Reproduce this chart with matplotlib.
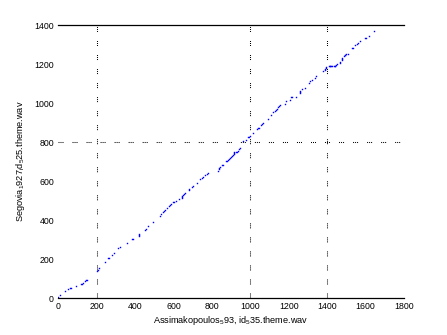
import matplotlib
matplotlib.use("Agg")
import matplotlib.pyplot as plt

# alignment path points
path_x = [0, 10, 36, 52, 62, 68, 94, 120, 125, 130, 140, 146, 151,
          203, 208, 213, 244, 260, 265, 281, 291, 312, 323, 360, 387, 392,
          423, 423, 423, 454, 459, 470, 496, 532, 537, 548, 553, 558, 569,
          579, 584, 589, 600, 605, 615, 631, 647, 647, 647, 652, 657, 662,
          683, 683, 699, 704, 725, 740, 751, 756, 766, 777, 782,
          834, 839, 839, 844, 855, 860, 876, 881, 886, 891, 896, 902, 907,
          912, 917, 917, 917, 928, 933, 938, 943, 948, 964, 975, 990, 995,
          1000, 1016, 1037, 1042, 1047, 1058, 1063, 1068, 1094, 1105, 1120,
          1131, 1136, 1141, 1146, 1151, 1157, 1183, 1188, 1204, 1214, 1219,
          1240, 1256, 1261, 1261, 1271, 1282, 1303, 1313, 1323, 1334, 1344,
          1380, 1386, 1391, 1396, 1396, 1407, 1412, 1417, 1422, 1427, 1433,
          1438, 1443, 1448, 1453, 1464, 1469, 1479, 1479, 1479, 1485, 1490,
          1495, 1500, 1510, 1531, 1536, 1547, 1557, 1562, 1573, 1599, 1604,
          1620, 1646]
path_y = [5, 15, 36, 46, 51, 51, 61, 72, 72, 77, 86, 91, 91,
          138, 143, 154, 184, 205, 205, 220, 230, 256, 261, 282, 302, 302,
          317, 322, 327, 352, 357, 368, 388, 420, 430, 440, 445, 450, 461,
          471, 476, 481, 491, 491, 496, 507, 512, 517, 522, 527, 532, 537,
          553, 558, 572, 577, 593, 609, 614, 619, 630, 635, 640,
          650, 660, 665, 670, 681, 681, 701, 701, 707, 711, 717, 722, 727,
          732, 737, 742, 748, 748, 750, 755, 763, 768, 804, 809, 824, 824,
          829, 845, 865, 870, 870, 886, 891, 896, 921, 937, 952,
          962, 967, 972, 978, 983, 988, 998, 1009, 1014, 1029, 1034,
          1034, 1050, 1055, 1060, 1070, 1080, 1101, 1111, 1121, 1131, 1141,
          1167, 1172, 1177, 1182, 1187, 1192, 1192, 1192, 1192, 1192, 1192,
          1192, 1192, 1197, 1203, 1208, 1213, 1223, 1228, 1233, 1243, 1248,
          1248, 1253, 1253, 1284, 1284, 1300, 1305, 1310, 1320, 1336, 1336,
          1346, 1372]

# dotted reference lines
vlines = [200, 1000, 1400]
hlines = [800]

xticks = [0, 200, 400, 600, 800, 1000, 1200, 1400, 1600, 1800]
yticks = [0, 200, 400, 600, 800, 1000, 1200, 1400]

plt.rcParams['font.family'] = ['Liberation Sans', 'DejaVu Sans']
plt.rcParams['mathtext.fontset'] = 'custom'
plt.rcParams['mathtext.rm'] = 'Liberation Sans'
plt.rcParams['mathtext.it'] = 'Liberation Sans'
plt.rcParams['lines.scale_dashes'] = False

fig = plt.figure(figsize=(4.47, 3.35), dpi=100)
ax = fig.add_axes([0.130, 0.110, 0.774, 0.815])

# small clusters of pixel dots, like the old-style dotted grid
dots = (0, (0.72, 0.72, 0.72, 0.72, 0.72, 6.5))
for v in vlines:
    ax.axvline(v, color='black', linestyle=dots, linewidth=0.75)
for h in hlines:
    ax.axhline(h, color='black', linestyle=dots, linewidth=0.75)

ax.plot(path_x, path_y, linestyle='none', marker='s', markersize=1.0,
        markeredgewidth=0, color='blue')

ax.set_xlim(0, 1800)
ax.set_ylim(0, 1400)
ax.set_xticks(xticks)
ax.set_yticks(yticks)
ax.tick_params(length=0, labelsize=6.3, pad=3)

ax.spines['left'].set_visible(False)
ax.spines['right'].set_visible(False)
ax.spines['top'].set_linewidth(0.9)
ax.spines['bottom'].set_linewidth(0.9)

ax.set_xlabel(r'Assimakopoulos$_5$93, id$_5$35.theme.wav', fontsize=6.6, labelpad=2)
ax.set_ylabel(r'Segovia$_1$927$_i$d$_5$25.theme.wav', fontsize=6.6, labelpad=5)

fig.savefig('out.png', dpi=100)
